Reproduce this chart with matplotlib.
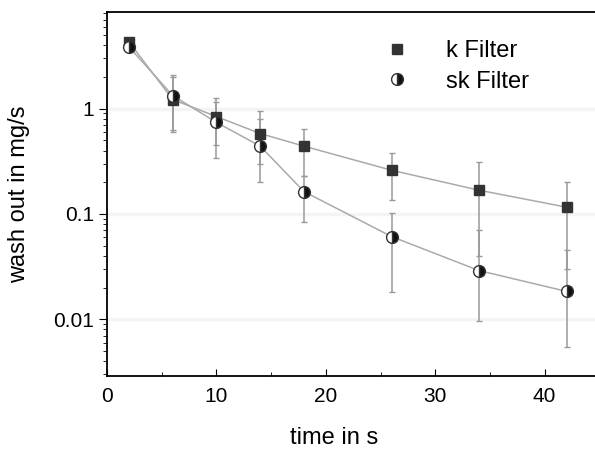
import numpy as np
import matplotlib
matplotlib.use("Agg")
import matplotlib.pyplot as plt
from matplotlib.ticker import FixedLocator, FixedFormatter, LogLocator, NullFormatter

plt.rcParams['font.family'] = ['Liberation Sans', 'DejaVu Sans']

# time in s
t = [2, 6, 10, 14, 18, 26, 34, 42]

# k Filter
k_val = [4.3, 1.22, 0.84, 0.58, 0.44, 0.26, 0.168, 0.116]
k_lo = [4.3, 0.62, 0.45, 0.30, 0.23, 0.137, 0.04, 0.03]
k_hi = [4.3, 2.1, 1.27, 0.94, 0.64, 0.38, 0.31, 0.20]

# sk Filter
sk_val = [3.85, 1.33, 0.74, 0.44, 0.163, 0.061, 0.029, 0.0184]
sk_lo = [3.85, 0.60, 0.34, 0.20, 0.084, 0.018, 0.0096, 0.0055]
sk_hi = [3.85, 2.0, 1.15, 0.80, 0.23, 0.103, 0.07, 0.045]

t = np.array(t)
k_val, k_lo, k_hi = map(np.array, (k_val, k_lo, k_hi))
sk_val, sk_lo, sk_hi = map(np.array, (sk_val, sk_lo, sk_hi))

fig = plt.figure(figsize=(5.95, 4.54), dpi=100)
ax = fig.add_axes([0.18, 0.172, 0.82, 0.802])
ax.set_yscale('log')

for y in [1, 0.1, 0.01]:
    ax.axhline(y, color='#f4f4f4', lw=2.5, zorder=0)

# fit curves (grey lines through the points)
ax.plot(t, k_val, color='#aaaaaa', lw=1.1, zorder=1)
ax.plot(t, sk_val, color='#aaaaaa', lw=1.1, zorder=1)

ax.errorbar(t, k_val, yerr=[k_val - k_lo, k_hi - k_val], fmt='none',
            ecolor='#999999', elinewidth=1.1, capsize=2, zorder=2)
ax.errorbar(t, sk_val, yerr=[sk_val - sk_lo, sk_hi - sk_val], fmt='none',
            ecolor='#999999', elinewidth=1.1, capsize=2, zorder=2)

ax.plot(t, k_val, 's', color='#333333', markersize=7.5, label='k Filter', zorder=3)
ax.plot(t, sk_val, 'o', fillstyle='right', markerfacecolor='#111111',
        markerfacecoloralt='white', markeredgecolor='#333333',
        markersize=8.5, markeredgewidth=1.0, label='sk Filter', zorder=4)

ax.set_xlim(0, 44.6)
ax.set_ylim(0.0029, 8.3)

ax.xaxis.set_major_locator(FixedLocator([0, 10, 20, 30, 40]))
ax.xaxis.set_minor_locator(FixedLocator([5, 15, 25, 35]))
ax.yaxis.set_major_locator(FixedLocator([0.01, 0.1, 1]))
ax.yaxis.set_major_formatter(FixedFormatter(['0.01', '0.1', '1']))
ax.yaxis.set_minor_locator(LogLocator(base=10, subs=np.arange(2, 10)))
ax.yaxis.set_minor_formatter(NullFormatter())

ax.tick_params(axis='x', which='both', direction='in', labelsize=15, pad=8)
ax.tick_params(axis='x', which='major', length=5)
ax.tick_params(axis='x', which='minor', length=3)
ax.tick_params(axis='y', which='both', direction='out', labelsize=15)
ax.tick_params(axis='y', which='major', length=6)
ax.tick_params(axis='y', which='minor', length=3)

for s in ['left', 'bottom', 'top']:
    ax.spines[s].set_linewidth(1.3)
ax.spines['right'].set_visible(False)

ax.set_xlabel('time in s', fontsize=17)
ax.xaxis.set_label_coords(0.465, -0.14)
ax.set_ylabel('wash out in mg/s', fontsize=17)
ax.yaxis.set_label_coords(-0.158, 0.5)

ax.legend(loc='upper left', bbox_to_anchor=(0.515, 0.98), frameon=False,
          fontsize=17, handletextpad=1.3, labelspacing=0.35, handlelength=1.5)

fig.savefig('out.png', dpi=100)
